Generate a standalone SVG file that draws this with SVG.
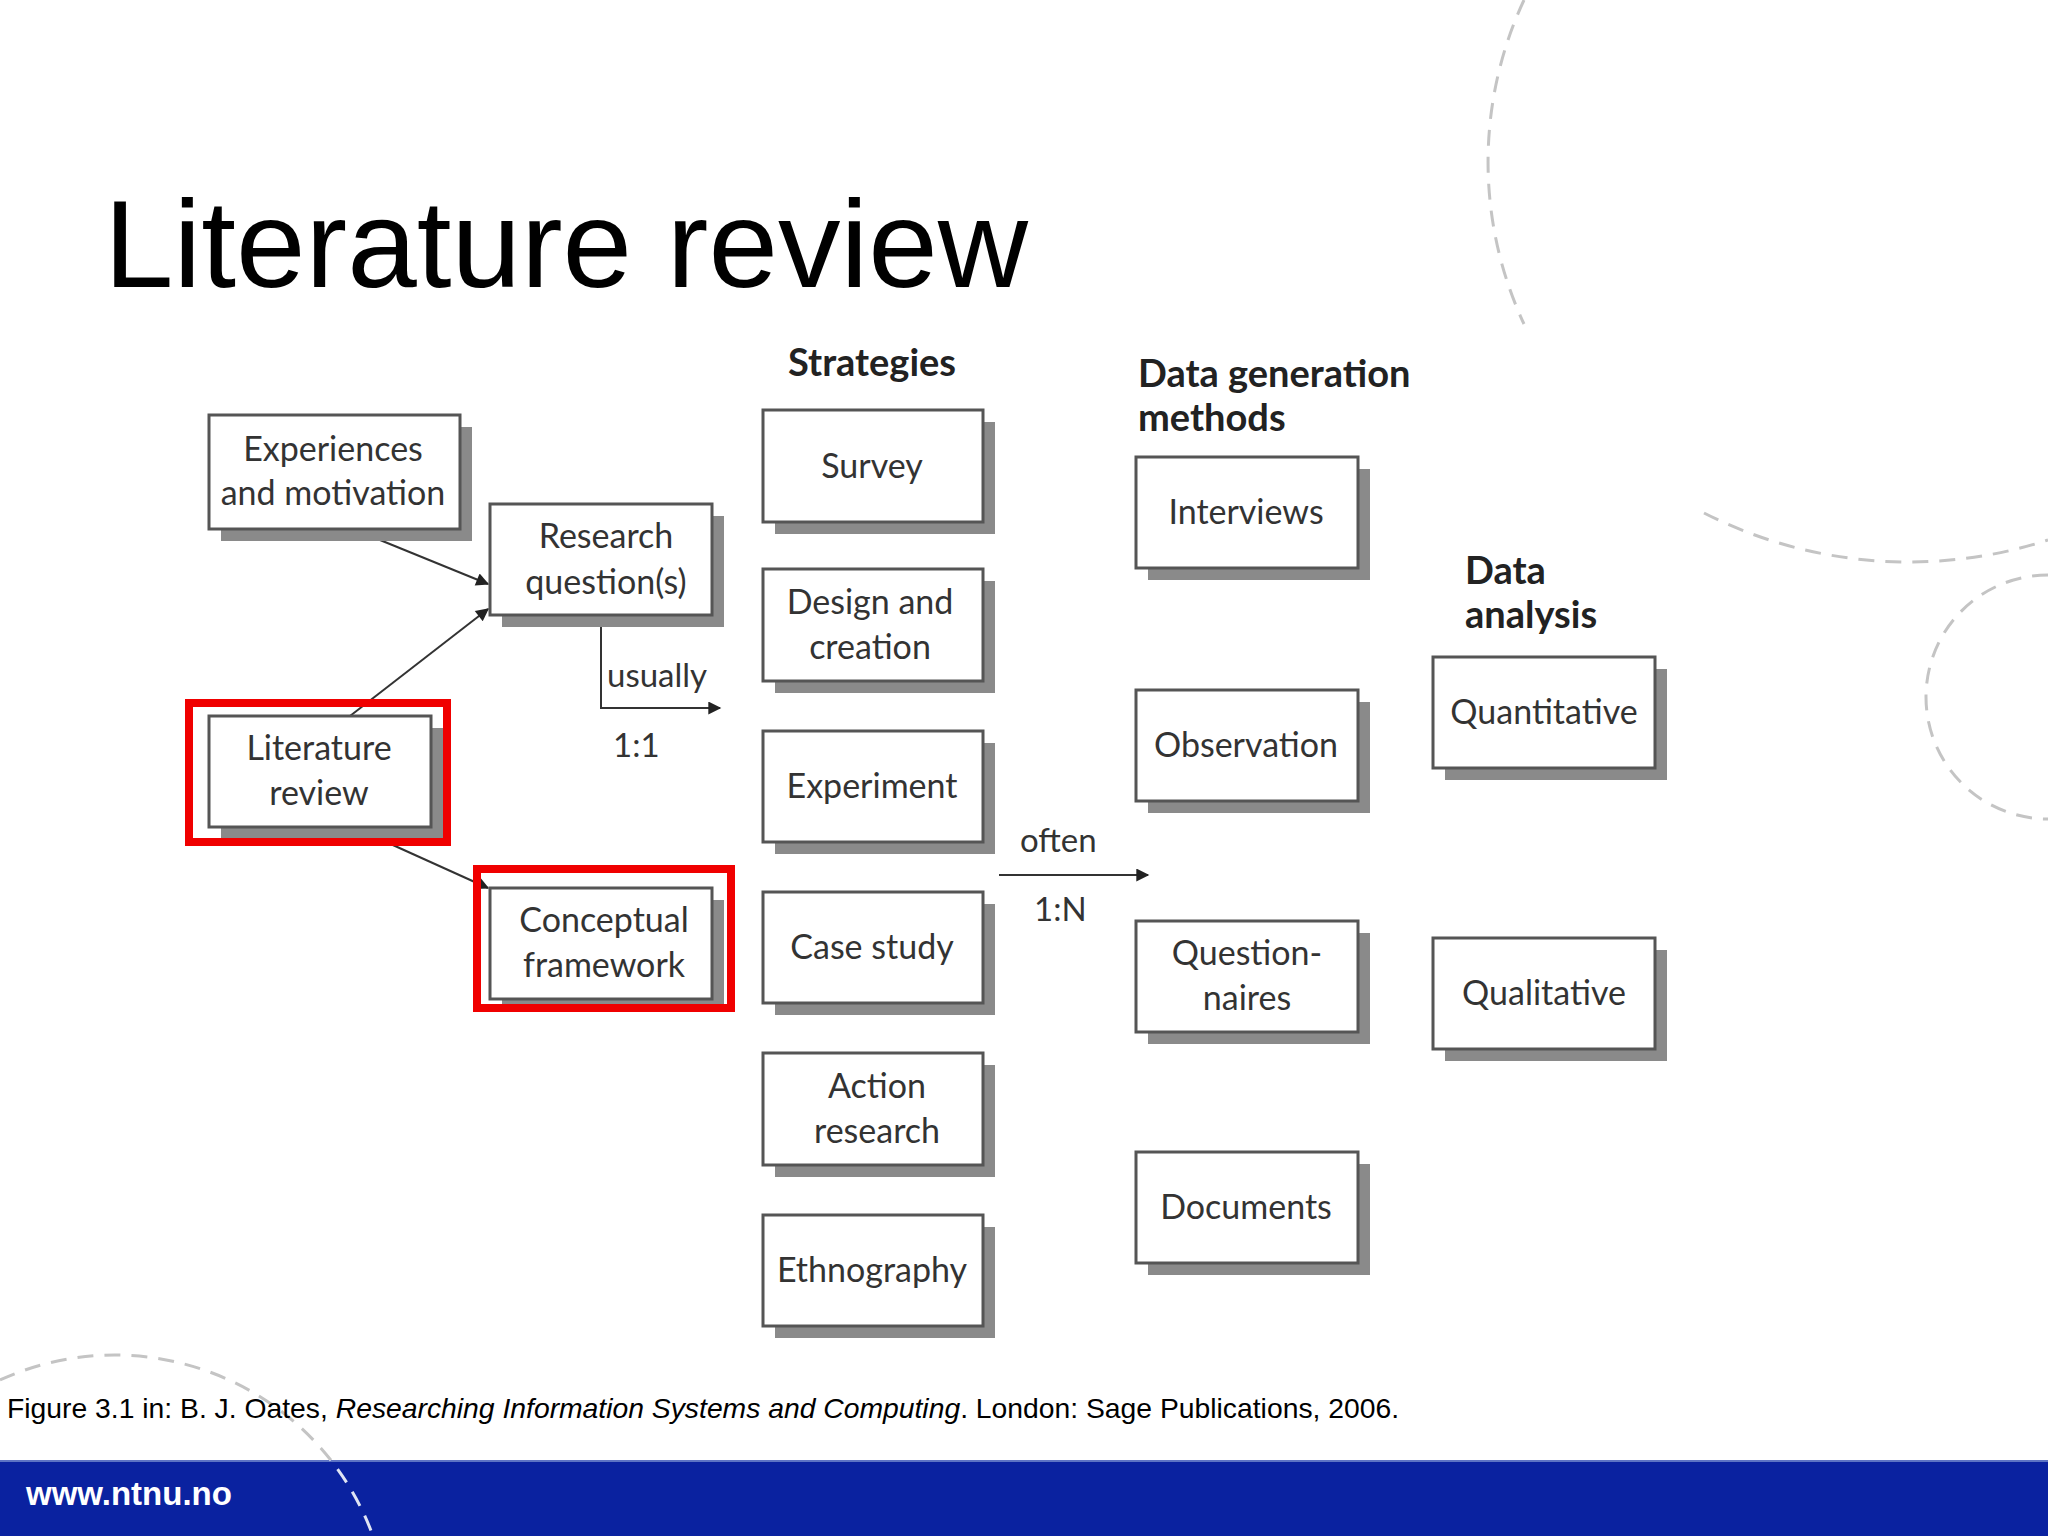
<svg xmlns="http://www.w3.org/2000/svg" width="2048" height="1536" viewBox="0 0 2048 1536">
<defs>
<style>
.bg{fill:#ffffff}
.deco{fill:none;stroke:#c4c4c4;stroke-width:3;stroke-dasharray:16 11}
.decow{fill:none;stroke:#dfe4f4;stroke-width:3;stroke-dasharray:16 11}
.sh{fill:#8a8a8a}
.bx{fill:#ffffff;stroke:#555555;stroke-width:3}
.t{font-family:Lato,"Open Sans","DejaVu Sans",sans-serif;font-size:34px;fill:#333333;text-anchor:middle}
.h{font-family:Lato,"Open Sans","DejaVu Sans",sans-serif;font-size:38px;font-weight:bold;fill:#222222}
.l{font-family:Lato,"Open Sans","DejaVu Sans",sans-serif;font-size:33px;fill:#333333}
.hl{fill:none;stroke:#f00000;stroke-width:8}
.cn{fill:none;stroke:#333333;stroke-width:2}
</style>
<marker id="ah" viewBox="0 0 10 10" refX="9" refY="5" markerWidth="19" markerHeight="13" markerUnits="userSpaceOnUse" orient="auto">
<path d="M0,0 L10,5 L0,10 z" fill="#222222"/>
</marker>
<clipPath id="band"><rect x="0" y="1460" width="2048" height="76"/></clipPath>
</defs>
<rect class="bg" x="0" y="0" width="2048" height="1536"/>
<g id="decoration">
<path class="deco" d="M1524,0 A383,383 0 0 0 1524,324"/>
<path class="deco" d="M1704,513 A452,452 0 0 0 2048,540"/>
<path class="deco" d="M2048,575 A122,122 0 0 0 2048,819"/>
<path class="deco" d="M0,1380 A275,275 0 0 1 373,1536"/>
</g>
<text x="104" y="287" font-family="'Liberation Sans',Arial,sans-serif" font-size="125" fill="#000000">Literature review</text>
<g id="headers">
<text class="h" x="788" y="376">Strategies</text>
<text class="h" x="1138" y="387">Data generation</text>
<text class="h" x="1138" y="431">methods</text>
<text class="h" x="1465" y="584">Data</text>
<text class="h" x="1465" y="628">analysis</text>
</g>
<g id="connectors">
<line class="cn" x1="353" y1="529" x2="488" y2="584" marker-end="url(#ah)"/>
<line class="cn" x1="350" y1="716" x2="488" y2="609" marker-end="url(#ah)"/>
<line class="cn" x1="353" y1="827" x2="488" y2="888" marker-end="url(#ah)"/>
<path class="cn" d="M601,615 V708 H720" marker-end="url(#ah)"/>
<line class="cn" x1="999" y1="875" x2="1148" y2="875" marker-end="url(#ah)"/>
<text class="l" x="607" y="687">usually</text>
<text class="l" x="613" y="757">1:1</text>
<text class="l" x="1020" y="852">often</text>
<text class="l" x="1034" y="921">1:N</text>
</g>
<g id="n-experiences"><rect class="sh" x="221" y="427" width="251" height="114"/><rect class="bx" x="209" y="415" width="251" height="114"/><text class="t" x="333" y="461">Experiences</text><text class="t" x="333" y="505">and motivation</text></g>
<g id="n-research"><rect class="sh" x="502" y="516" width="222" height="111"/><rect class="bx" x="490" y="504" width="222" height="111"/><text class="t" x="606" y="548">Research</text><text class="t" x="606" y="594">question(s)</text></g>
<g id="n-literature"><rect class="sh" x="221" y="728" width="222" height="111"/><rect class="bx" x="209" y="716" width="222" height="111"/><text class="t" x="319" y="760">Literature</text><text class="t" x="319" y="805">review</text><rect class="hl" x="189" y="703" width="258" height="139"/></g>
<g id="n-conceptual"><rect class="sh" x="502" y="900" width="222" height="111"/><rect class="bx" x="490" y="888" width="222" height="111"/><text class="t" x="604" y="932">Conceptual</text><text class="t" x="604" y="977">framework</text><rect class="hl" x="477" y="869" width="254" height="139"/></g>
<g id="n-survey"><rect class="sh" x="775" y="422" width="220" height="112"/><rect class="bx" x="763" y="410" width="220" height="112"/><text class="t" x="872" y="478">Survey</text></g>
<g id="n-design"><rect class="sh" x="775" y="581" width="220" height="112"/><rect class="bx" x="763" y="569" width="220" height="112"/><text class="t" x="870" y="614">Design and</text><text class="t" x="870" y="659">creation</text></g>
<g id="n-experiment"><rect class="sh" x="775" y="743" width="220" height="111"/><rect class="bx" x="763" y="731" width="220" height="111"/><text class="t" x="872" y="798">Experiment</text></g>
<g id="n-casestudy"><rect class="sh" x="775" y="904" width="220" height="111"/><rect class="bx" x="763" y="892" width="220" height="111"/><text class="t" x="872" y="959">Case study</text></g>
<g id="n-action"><rect class="sh" x="775" y="1065" width="220" height="112"/><rect class="bx" x="763" y="1053" width="220" height="112"/><text class="t" x="877" y="1098">Action</text><text class="t" x="877" y="1143">research</text></g>
<g id="n-ethnography"><rect class="sh" x="775" y="1227" width="220" height="111"/><rect class="bx" x="763" y="1215" width="220" height="111"/><text class="t" x="872" y="1282">Ethnography</text></g>
<g id="n-interviews"><rect class="sh" x="1148" y="469" width="222" height="111"/><rect class="bx" x="1136" y="457" width="222" height="111"/><text class="t" x="1246" y="524">Interviews</text></g>
<g id="n-observation"><rect class="sh" x="1148" y="702" width="222" height="111"/><rect class="bx" x="1136" y="690" width="222" height="111"/><text class="t" x="1246" y="757">Observation</text></g>
<g id="n-questionnaires"><rect class="sh" x="1148" y="933" width="222" height="111"/><rect class="bx" x="1136" y="921" width="222" height="111"/><text class="t" x="1247" y="965">Question-</text><text class="t" x="1247" y="1010">naires</text></g>
<g id="n-documents"><rect class="sh" x="1148" y="1164" width="222" height="111"/><rect class="bx" x="1136" y="1152" width="222" height="111"/><text class="t" x="1246" y="1219">Documents</text></g>
<g id="n-quantitative"><rect class="sh" x="1445" y="669" width="222" height="111"/><rect class="bx" x="1433" y="657" width="222" height="111"/><text class="t" x="1544" y="724">Quantitative</text></g>
<g id="n-qualitative"><rect class="sh" x="1445" y="950" width="222" height="111"/><rect class="bx" x="1433" y="938" width="222" height="111"/><text class="t" x="1544" y="1005">Qualitative</text></g>
<text x="7" y="1418" font-family="'Liberation Sans',Arial,sans-serif" font-size="28.3" fill="#000000">Figure 3.1 in: B. J. Oates, <tspan font-style="italic">Researching Information Systems and Computing</tspan>. London: Sage Publications, 2006.</text>
<g id="footer">
<rect x="0" y="1460" width="2048" height="76" fill="#0a22a0"/>
<line x1="0" y1="1461" x2="2048" y2="1461" stroke="#5d74c4" stroke-width="2"/>
<path class="decow" clip-path="url(#band)" d="M0,1380 A275,275 0 0 1 373,1536"/>
<text x="26" y="1505" font-family="'Liberation Sans',Arial,sans-serif" font-size="33" font-weight="bold" fill="#ffffff">www.ntnu.no</text>
</g>
</svg>
